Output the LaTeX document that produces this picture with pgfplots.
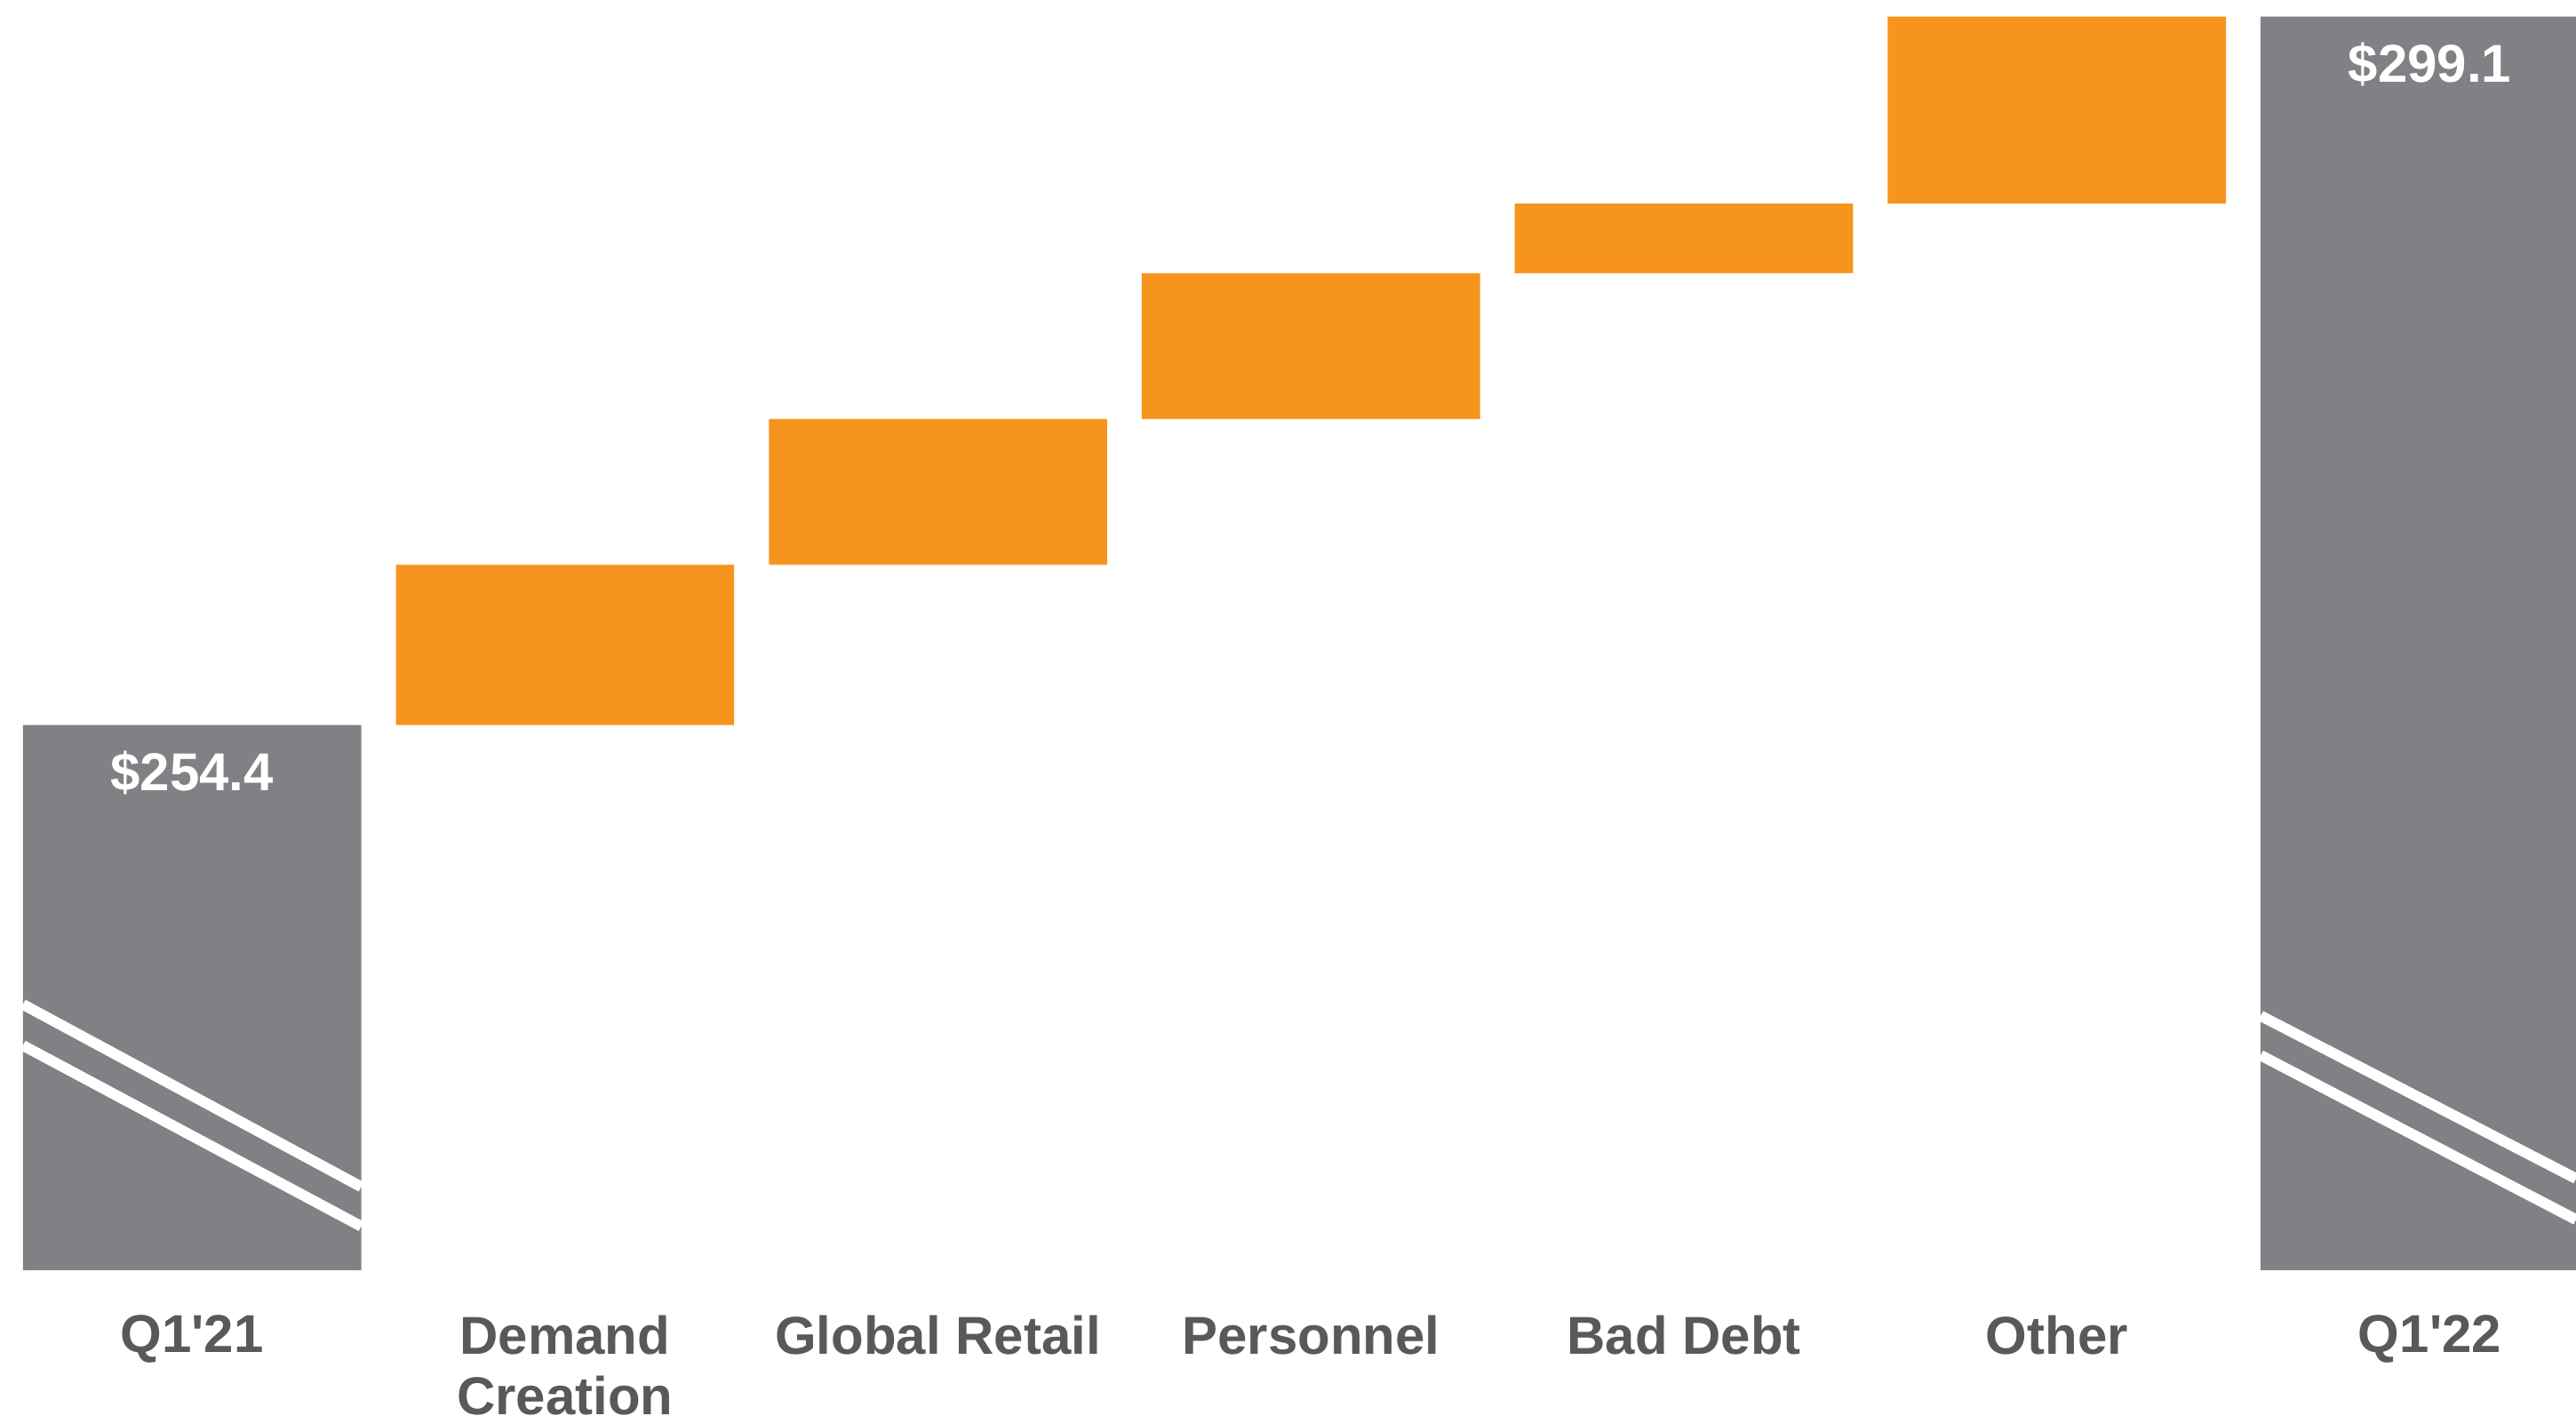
\documentclass[border=0pt]{standalone}
\usepackage{pgfplots}
\pgfplotsset{compat=1.18}
\usepackage{fontspec}
\setmainfont{Liberation Sans}
\definecolor{bargray}{HTML}{808184}
\definecolor{barorange}{HTML}{F7941D}
\definecolor{labelgray}{HTML}{595959}
\pgfplotsset{wf/.style={scale only axis, width=724.75pt, height=357.25pt,
  xmin=-0.515, xmax=6.392, ymin=220, ymax=300.14,
  bar width=0.907,
  axis line style={draw=none}, tick style={draw=none},
  major tick length=0pt, ytick=\empty}}
\begin{document}
\begin{tikzpicture}
% floating (change) bars
\begin{axis}[wf, ybar stacked, xtick=\empty]
\addplot[fill=none, draw=none]
  coordinates {(1,254.4) (2,264.5) (3,273.7) (4,282.9) (5,287.3)};
\addplot[fill=barorange, draw=none]
  coordinates {(1,10.1) (2,9.2) (3,9.2) (4,4.4) (5,11.8)};
\end{axis}
% totals, labels and axis breaks
\begin{axis}[wf, name=ax, ybar,
  xtick={0,1,2,3,4,5,6},
  xticklabels={Q1\textquotesingle21,{Demand\\Creation},Global Retail,Personnel,Bad Debt,Other,Q1\textquotesingle22},
  xticklabel style={font=\bfseries\fontsize{15}{17}\selectfont, text=labelgray, align=center, anchor=north, inner sep=0pt, yshift=-12.5pt},
]
\addplot[fill=bargray, draw=none, bar shift=0pt, point meta=explicit symbolic,
  nodes near coords,
  every node near coord/.append style={anchor=center, text=white, font=\bfseries\fontsize{15}{17}\selectfont, yshift=-13.4pt}]
  coordinates {(0,254.4)[\$254.4] (6,299.1)[\$299.1]};
\draw[white, line width=3pt] (axis cs:-0.4535,236.77) -- (axis cs:0.4535,225.26);
\draw[white, line width=3pt] (axis cs:-0.4535,234.18) -- (axis cs:0.4535,222.77);
\draw[white, line width=3pt] (axis cs:5.5465,236.05) -- (axis cs:6.392,225.78);
\draw[white, line width=3pt] (axis cs:5.5465,233.56) -- (axis cs:6.392,223.19);
\end{axis}
\pgfresetboundingbox
\path[use as bounding box] ([yshift=-41pt]ax.south west) rectangle (ax.north east);
\end{tikzpicture}
\end{document}
